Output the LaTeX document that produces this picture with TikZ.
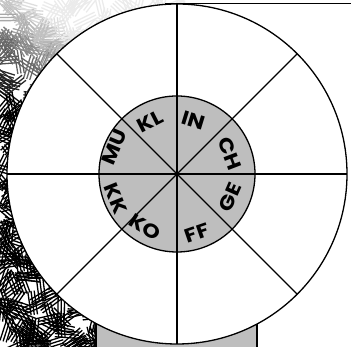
\documentclass[tikz,border=0pt]{standalone}
\usepackage{fontspec}
\setmainfont{Poppins}
\newfontfamily\wheelfont[FakeStretch=1.15]{Poppins}
\usetikzlibrary{calc}

\definecolor{ringgray}{RGB}{190,190,190}

\tikzset{
  rim/.style={black, line width=1.3pt},
  spoke/.style={black, line width=1.1pt},
  seclabel/.style={font=\wheelfont\fontsize{19.5}{19.5}\selectfont\bfseries, inner sep=0pt},
}

\begin{document}
\begin{tikzpicture}[x=1pt,y=1pt]
\useasboundingbox (0,0) rectangle (351,347);
\coordinate (c) at (177,173);

% scratchy texture on the left
\begin{scope}
\clip (0,0) -- (96,0) -- (96,200) -- (185,200) -- (185,347) -- (0,347) -- cycle;
\pgfmathsetseed{11}
\foreach \i in {1,...,800}{
  \pgfmathsetmacro{\px}{rnd*190}
  \pgfmathsetmacro{\py}{rnd*347}
  \pgfmathsetmacro{\pa}{rnd*180}
  \pgfmathtruncatemacro{\pk}{max(8,min(100,25+((347-\py)-0.8*\px)*0.8))}
  \begin{scope}[shift={(\px,\py)},rotate=\pa]
    \draw [black!\pk, line width=1.3pt] (-12,-3.2) -- (12,-3.2) (-12,0) -- (12,0) (-12,3.2) -- (12,3.2);
  \end{scope}
}
\end{scope}

% stand under the wheel
\fill [ringgray] (96,0) rectangle (257,60);
\draw [rim] (96,0) -- (96,60) (257,0) -- (257,60);

% wheel
\filldraw [rim, fill=white] (c) circle (170);
\filldraw [rim, fill=ringgray] (c) circle (78);
\foreach \a in {0,45,...,315}
  \draw [spoke] (c) -- ($(c)+(\a:170)$);

% labels, upper half
\node [seclabel, rotate=-69] (ch) at ($(c)+(21:57)$)   {CH};
\node [seclabel, rotate=-17] (in) at ($(c)+(73:56)$)   {IN};
\node [seclabel, rotate=27]  (kl) at ($(c)+(117:59)$) {KL};
\node [seclabel, rotate=67]  (mu) at ($(c)+(157:68)$) {MU};
% labels, lower half
\node [seclabel, rotate=292] (kk) at ($(c)+(202:66)$)  {KK};
\node [seclabel, rotate=329] (ko) at ($(c)+(239:62)$)  {KO};
\node [seclabel, rotate=19]  (ff) at ($(c)+(289:62)$)  {FF};
\node [seclabel, rotate=66.5] (ge) at ($(c)+(336.5:58)$) {GE};

% rule along the top
\coordinate (topl) at (165,343.5);
\coordinate (topr) at (351,343.5);
\draw [rim] (topl) -- (topr);
\end{tikzpicture}
\end{document}
